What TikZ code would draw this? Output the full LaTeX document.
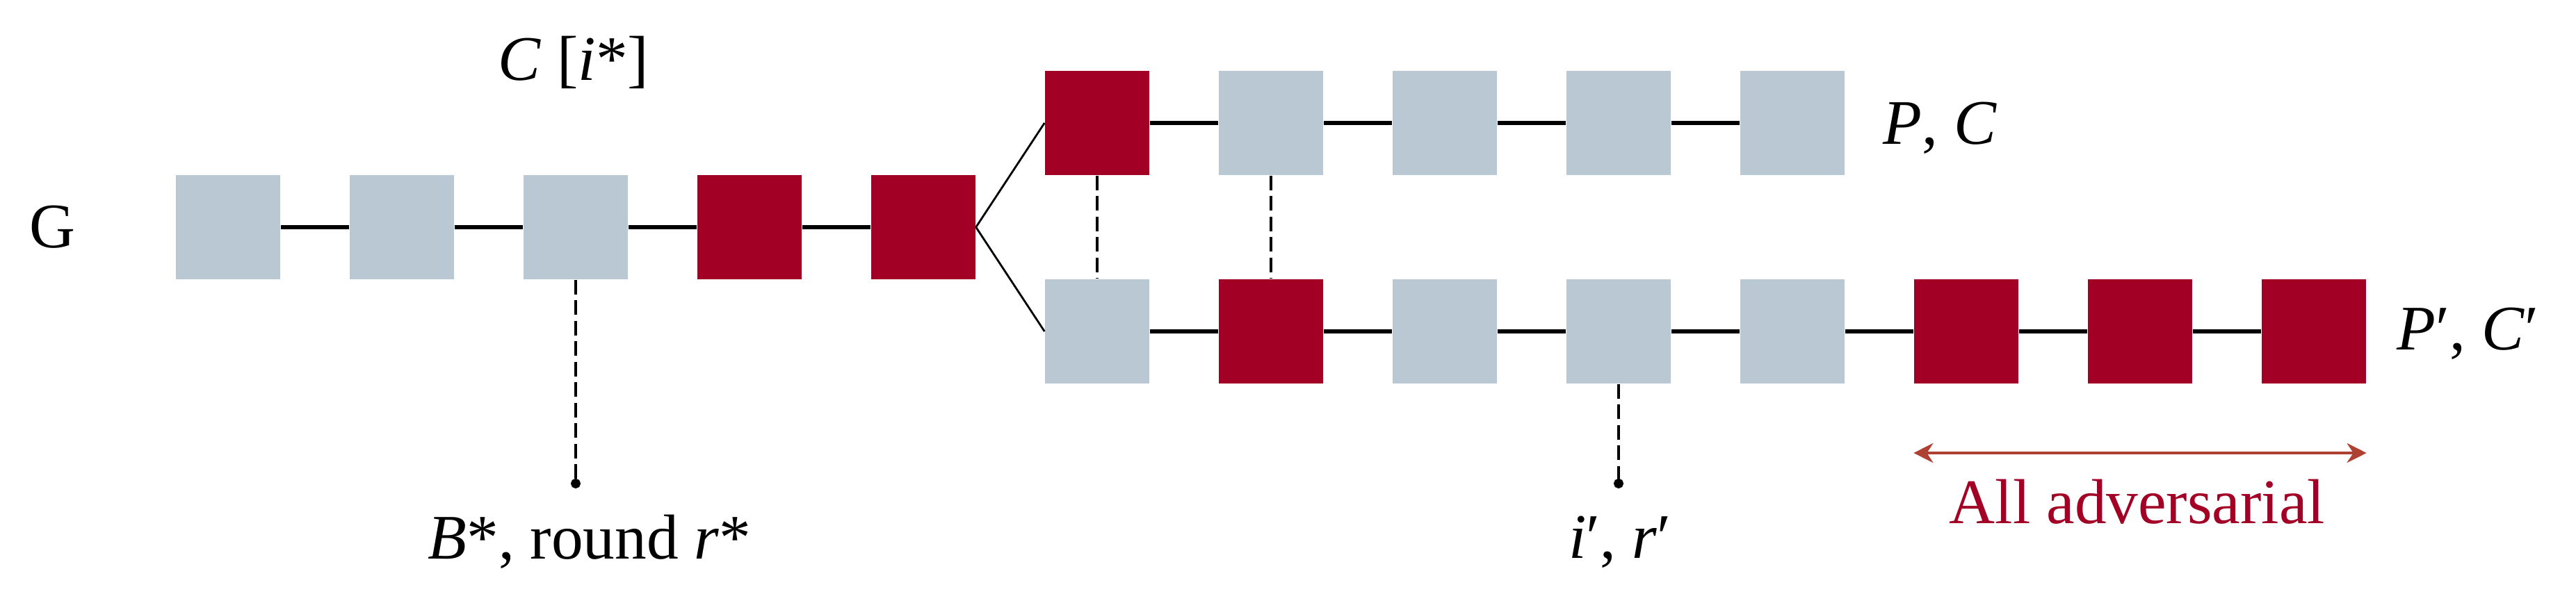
\documentclass[tikz,border=0pt]{standalone}
\usepackage{fontspec}
\setmainfont{Liberation Serif}
\usetikzlibrary{arrows.meta}

\definecolor{blockred}{HTML}{A20025}
\definecolor{blockgrey}{HTML}{BAC8D3}
\definecolor{arrowbrown}{HTML}{AE4132}

\begin{document}
\begin{tikzpicture}[
		blk/.style={rectangle, minimum width=1.5cm, minimum height=1.5cm, inner sep=0pt},
		honest/.style={blk, fill=blockgrey},
		adv/.style={blk, fill=blockred},
		link/.style={line width=1.5pt},
		fork/.style={line width=0.8pt},
		pin/.style={line width=1pt, dash pattern=on 6pt off 2.4pt},
		lbl/.style={inner sep=0pt, font=\fontsize{26}{30}\selectfont}
	]
		
		\useasboundingbox (0,0) rectangle (37.05,-8.55);
		
		% Chain G
		
		\node[honest] (g1) at (3.28,-3.27) {};
		\node[honest] (g2) at (5.78,-3.27) {};
		\node[honest] (g3) at (8.28,-3.27) {};
		\node[adv]    (g4) at (10.78,-3.27) {};
		\node[adv]    (g5) at (13.28,-3.27) {};
		
		% Chain P, C
		
		\node[adv]    (p1) at (15.78,-1.77) {};
		\node[honest] (p2) at (18.28,-1.77) {};
		\node[honest] (p3) at (20.78,-1.77) {};
		\node[honest] (p4) at (23.28,-1.77) {};
		\node[honest] (p5) at (25.78,-1.77) {};
		
		% Chain P', C'
		
		\node[honest] (q1) at (15.78,-4.77) {};
		\node[adv]    (q2) at (18.28,-4.77) {};
		\node[honest] (q3) at (20.78,-4.77) {};
		\node[honest] (q4) at (23.28,-4.77) {};
		\node[honest] (q5) at (25.78,-4.77) {};
		\node[adv]    (q6) at (28.28,-4.77) {};
		\node[adv]    (q7) at (30.78,-4.77) {};
		\node[adv]    (q8) at (33.28,-4.77) {};
		
		% Pin ends
		
		\coordinate (bstar) at (8.28,-7.03);
		\coordinate (iprime) at (23.28,-7.03);
		
		% EDGE
		
		\draw[link] (g1) -- (g2);
		\draw[link] (g2) -- (g3);
		\draw[link] (g3) -- (g4);
		\draw[link] (g4) -- (g5);
		
		\draw[link] (p1) -- (p2);
		\draw[link] (p2) -- (p3);
		\draw[link] (p3) -- (p4);
		\draw[link] (p4) -- (p5);
		
		\draw[link] (q1) -- (q2);
		\draw[link] (q2) -- (q3);
		\draw[link] (q3) -- (q4);
		\draw[link] (q4) -- (q5);
		\draw[link] (q5) -- (q6);
		\draw[link] (q6) -- (q7);
		\draw[link] (q7) -- (q8);
		
		\draw[fork] (g5.east) -- (p1.west);
		\draw[fork] (g5.east) -- (q1.west);
		
		% Dashed EDGE
		
		\draw[pin] (p1.south) -- (q1.north);
		\draw[pin] (p2.south) -- (q2.north);
		\draw[pin, -{Circle[length=4pt]}] (g3.south) -- (bstar);
		\draw[pin, -{Circle[length=4pt]}] (q4.south) -- (iprime);
		
		% Labels
		
		\node[lbl] (glabel) at (0.75,-3.27) {G};
		\node[lbl] (cistar) at (8.25,-0.90) {\textit{C} [\textit{i}*]};
		\node[lbl, anchor=west] (pc) at (27.08,-1.84) {\textit{P}, \textit{C}};
		\node[lbl, anchor=west] (pcprime) at (34.47,-4.80) {\textit{P}′, \textit{C}′};
		\node[lbl] (blabel) at (8.48,-7.80) {\textit{B}*, round \textit{r}*};
		\node[lbl] (ilabel) at (23.30,-7.80) {\textit{i}′, \textit{r}′};
		
		% Adversarial span
		
		\coordinate (advleft) at (q6.west |- 0,-6.52);
		\coordinate (advright) at (q8.east |- 0,-6.52);
		\draw[arrowbrown, line width=1.2pt, {Stealth[length=8pt,width=8pt]}-{Stealth[length=8pt,width=8pt]}] (advleft) -- (advright);
		\node[lbl, text=blockred] (advlabel) at (30.74,-7.22) {All adversarial};
		
	\end{tikzpicture}
\end{document}
